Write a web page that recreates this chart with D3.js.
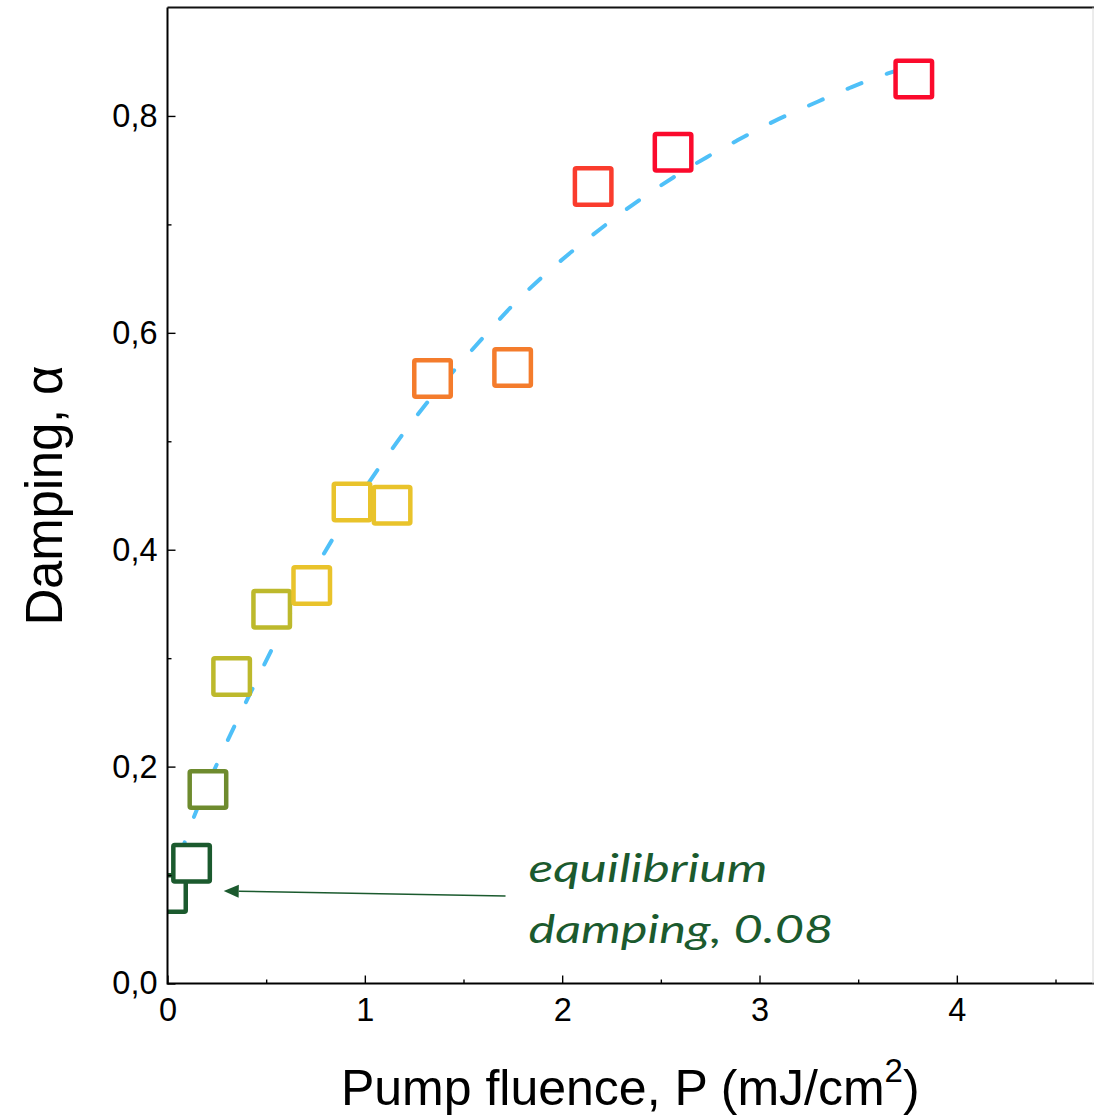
<!DOCTYPE html>
<html><head><meta charset="utf-8">
<script src="https://cdn.jsdelivr.net/npm/d3@7"></script>
<style>body{margin:0;background:#fff;} svg{display:block;}</style>
</head><body>
<svg id="chart" width="1094" height="1118"></svg>
<script>
// ---- data ----
const fluence = [0.0, 0.122, 0.205, 0.325, 0.528, 0.731, 0.935, 1.138, 1.343, 1.749, 2.157, 2.562, 3.782];
const damping = [0.083, 0.111, 0.179, 0.283, 0.345, 0.367, 0.444, 0.441, 0.558, 0.568, 0.735, 0.7665, 0.834];
const pointColors = ["#1b5a2e", "#1b5a2e", "#6e8b2e", "#bdb92c", "#bdb92c", "#e9c32b", "#e9c32b", "#e9c32b",
                     "#f47c2c", "#f47c2c", "#fa3c2d", "#fb0a2c", "#fb0a2c"];
const fitFluence = [0, 0.099, 0.262, 0.35, 0.446, 0.535, 0.638, 0.764, 0.849, 1.081, 1.206, 1.326, 1.472, 1.601,
                    1.752, 1.902, 2.066, 2.238, 2.403, 2.565, 2.733, 2.878, 3.073, 3.268, 3.459, 3.647, 3.78];
const fitDamping = [0.08, 0.1365, 0.207, 0.2415, 0.2775, 0.3105, 0.347, 0.3875, 0.4135, 0.478, 0.51, 0.538, 0.5695, 0.596,
                    0.626, 0.652, 0.6775, 0.702, 0.724, 0.7435, 0.762, 0.7765, 0.795, 0.811, 0.826, 0.839, 0.846];
const xMajorTicks = [0, 1, 2, 3, 4];
const xMinorTicks = [0.5, 1.5, 2.5, 3.5, 4.5];
const yMajorTicks = [0, 0.2, 0.4, 0.6, 0.8];
const yMinorTicks = [0.1, 0.3, 0.5, 0.7];
const xTitleMain = "Pump fluence, P (mJ/cm";
const xTitleSup = "2";
const xTitleEnd = ")";
const yTitle = "Damping, \u03b1";
const annotationLines = ["equilibrium", "damping, 0.08"];
const annotationAnchor = [1.829, 0.0933];
const arrowFrom = [1.713, 0.0807];
const arrowTo = [0.285, 0.0853];

// ---- layout ----
const svg = d3.select("#chart");
const L = 167.5, R = 1093, T = 7.5, B = 983.5;
const x = d3.scaleLinear().domain([0, 4.69]).range([L, R]);
const y = d3.scaleLinear().domain([0, 0.9]).range([B, T]);
const green = "#1b5a2e";

svg.append("rect").attr("width", 1094).attr("height", 1118).attr("fill", "#fff");

svg.append("defs").append("clipPath").attr("id", "plotclip")
  .append("rect").attr("x", L).attr("y", T).attr("width", R - L).attr("height", B - T);

const plot = svg.append("g").attr("clip-path", "url(#plotclip)");

// fit curve
const fitData = fitFluence.map((f, i) => [f, fitDamping[i]]);
plot.append("path")
  .datum(fitData)
  .attr("d", d3.line().x(d => x(d[0])).y(d => y(d[1])).curve(d3.curveMonotoneX))
  .attr("fill", "none")
  .attr("stroke", "#4fc0f8")
  .attr("stroke-width", 4)
  .attr("stroke-linecap", "round")
  .attr("stroke-dasharray", "15 27");

// square markers
const side = 36.5;
const pts = fluence.map((f, i) => ({f, d: damping[i], c: pointColors[i]}));
plot.selectAll("rect.pt").data(pts).enter().append("rect")
  .attr("class", "pt")
  .attr("x", d => x(d.f) - side / 2)
  .attr("y", d => y(d.d) - side / 2)
  .attr("width", side).attr("height", side)
  .attr("rx", 1.5)
  .attr("fill", "#fff")
  .attr("stroke", d => d.c)
  .attr("stroke-width", 4.5);

// ---- axes ----
const fmt = v => d3.format(".1f")(v).replace(".", ",");
const tickFont = "'Liberation Sans', Arial, sans-serif";

const xAxis = svg.append("g").attr("transform", `translate(0,${B})`)
  .call(d3.axisBottom(x).tickValues(xMajorTicks).tickSize(-8).tickPadding(14).tickFormat(d3.format("d")));
const xMinor = svg.append("g").attr("transform", `translate(0,${B})`)
  .call(d3.axisBottom(x).tickValues(xMinorTicks).tickSize(-4).tickFormat(""));
const yAxis = svg.append("g").attr("transform", `translate(${L},0)`)
  .call(d3.axisLeft(y).tickValues(yMajorTicks).tickSize(-8).tickPadding(10).tickFormat(fmt));
const yMinor = svg.append("g").attr("transform", `translate(${L},0)`)
  .call(d3.axisLeft(y).tickValues(yMinorTicks).tickSize(-4).tickFormat(""));

[xAxis, xMinor, yAxis, yMinor].forEach(g => {
  g.select(".domain").remove();
  g.selectAll(".tick line").attr("stroke", "#000").attr("stroke-width", 1.4);
  g.selectAll(".tick text").attr("fill", "#000").style("font-family", tickFont).style("font-size", "32.5px");
});

// axis lines and frame
svg.append("line").attr("x1", L).attr("x2", R + 1).attr("y1", B).attr("y2", B).attr("stroke", "#000").attr("stroke-width", 2);
svg.append("line").attr("x1", L).attr("x2", L).attr("y1", T).attr("y2", B + 1).attr("stroke", "#000").attr("stroke-width", 2);
svg.append("line").attr("x1", L).attr("x2", R + 1).attr("y1", T).attr("y2", T).attr("stroke", "#111").attr("stroke-width", 2);
svg.append("line").attr("x1", R).attr("x2", R).attr("y1", T).attr("y2", B).attr("stroke", "#d8d8d8").attr("stroke-width", 1);

// axis titles
const xt = svg.append("text")
  .attr("x", (L + R) / 2).attr("y", 1105)
  .attr("text-anchor", "middle")
  .style("font-family", tickFont).style("font-size", "50px").attr("fill", "#000");
xt.append("tspan").text(xTitleMain);
xt.append("tspan").attr("dy", -23).style("font-size", "33px").text(xTitleSup);
xt.append("tspan").attr("dy", 23).text(xTitleEnd);

svg.append("text")
  .attr("transform", `translate(62,${(T + B) / 2}) rotate(-90)`)
  .attr("text-anchor", "middle")
  .style("font-family", tickFont).style("font-size", "51px").attr("fill", "#000")
  .attr("textLength", 260).attr("lengthAdjust", "spacing")
  .text(yTitle);

// annotation arrow
const ax1 = x(arrowFrom[0]), ay1 = y(arrowFrom[1]);
const ax2 = x(arrowTo[0]), ay2 = y(arrowTo[1]);
const ang = Math.atan2(ay2 - ay1, ax2 - ax1);
const headLen = 15, headHalf = 6.5;
const bx = ax2 - headLen * Math.cos(ang), by = ay2 - headLen * Math.sin(ang);
svg.append("line").attr("x1", ax1).attr("y1", ay1).attr("x2", bx).attr("y2", by)
  .attr("stroke", green).attr("stroke-width", 1.6);
svg.append("path")
  .attr("d", `M${ax2},${ay2} L${bx - headHalf * Math.sin(ang)},${by + headHalf * Math.cos(ang)} L${bx + headHalf * Math.sin(ang)},${by - headHalf * Math.cos(ang)} Z`)
  .attr("fill", green);

// annotation text
const annWidths = [239, 305];
annotationLines.forEach((t, i) => {
  svg.append("text")
    .attr("x", x(annotationAnchor[0]))
    .attr("y", y(annotationAnchor[1]) + i * 61)
    .style("font-family", "Lato, 'Open Sans', sans-serif")
    .style("font-style", "italic")
    .style("font-size", "38px")
    .attr("fill", green)
    .attr("textLength", annWidths[i])
    .attr("lengthAdjust", "spacingAndGlyphs")
    .text(t);
});
</script>
</body></html>
